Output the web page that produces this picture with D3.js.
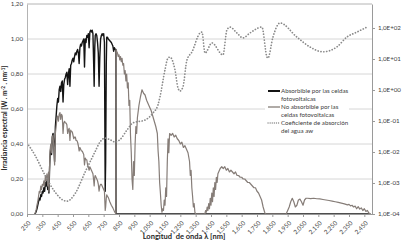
<!DOCTYPE html>
<html>
<head>
<meta charset="utf-8">
<script src="https://cdn.jsdelivr.net/npm/d3@7"></script>
<style>
body { margin: 0; background: #fff; }
text { font-family: Lato, "Open Sans", sans-serif; }
</style>
</head>
<body>
<svg id="chart" width="414" height="241"></svg>
<script>
// wavelengths (nm) below the band gap, shared by both irradiance series
const WL_VIS = [
    300, 305, 310, 315, 320, 325, 330, 335, 340, 345,
    350, 355, 360, 365, 370, 375, 380, 385, 390, 393,
    397, 400, 405, 410, 415, 420, 425, 430, 435, 440,
    445, 450, 455, 460, 465, 470, 475, 480, 485, 490,
    495, 500, 505, 510, 515, 520, 525, 530, 535, 540,
    545, 550, 555, 560, 565, 570, 575, 580, 585, 590,
    595, 600, 605, 610, 615, 620, 625, 630, 635, 640,
    645, 650, 655, 660, 665, 670, 675, 680, 685, 688,
    692, 695, 700, 705, 710, 715, 720, 725, 730, 735,
    740, 745, 750, 755, 760, 763, 767, 770, 775, 780,
    790, 800, 810, 815, 820, 825, 830
];
const ABS_VIS = [
    0, 0.005, 0.015, 0.03, 0.05, 0.07, 0.09, 0.08, 0.11, 0.10,
    0.13, 0.12, 0.15, 0.13, 0.18, 0.16, 0.20, 0.14, 0.22, 0.12,
    0.25, 0.33, 0.38, 0.34, 0.44, 0.46, 0.40, 0.30, 0.50, 0.56,
    0.62, 0.66, 0.64, 0.71, 0.73, 0.70, 0.75, 0.76, 0.64, 0.74,
    0.77, 0.78, 0.80, 0.81, 0.74, 0.80, 0.83, 0.73, 0.85, 0.86,
    0.88, 0.89, 0.87, 0.90, 0.92, 0.91, 0.93, 0.94, 0.92, 0.86,
    0.95, 0.97, 0.96, 0.98, 0.99, 1.00, 0.84, 1.00, 0.98, 1.02,
    1.01, 1.03, 0.95, 1.04, 1.05, 1.04, 1.05, 1.03, 0.85, 0.73,
    0.95, 1.02, 1.03, 1.02, 0.98, 0.92, 0.73, 0.90, 1.00, 1.02,
    1.03, 1.02, 1.03, 0.98, 0.13, 0.30, 0.85, 1.01, 1.01, 1.00,
    0.99, 0.98, 0.96, 0.93, 0.95, 0.94, 0.94
];
const NOABS_VIS = [
    0, 0.01, 0.025, 0.05, 0.07, 0.10, 0.13, 0.12, 0.16, 0.14,
    0.17, 0.16, 0.19, 0.16, 0.22, 0.19, 0.23, 0.16, 0.24, 0.13,
    0.27, 0.36, 0.40, 0.35, 0.44, 0.45, 0.38, 0.28, 0.46, 0.50,
    0.54, 0.56, 0.53, 0.57, 0.58, 0.54, 0.57, 0.56, 0.46, 0.52,
    0.53, 0.52, 0.52, 0.51, 0.46, 0.48, 0.49, 0.42, 0.48, 0.47,
    0.47, 0.45, 0.43, 0.44, 0.44, 0.42, 0.42, 0.41, 0.39, 0.36,
    0.38, 0.37, 0.36, 0.36, 0.35, 0.34, 0.28, 0.32, 0.31, 0.31,
    0.28, 0.27, 0.25, 0.27, 0.26, 0.25, 0.24, 0.23, 0.19, 0.16,
    0.21, 0.22, 0.21, 0.20, 0.19, 0.17, 0.13, 0.16, 0.17, 0.17,
    0.16, 0.15, 0.14, 0.13, 0.02, 0.04, 0.09, 0.11, 0.10, 0.095,
    0.07, 0.05, 0.035, 0.025, 0.015, 0.007, 0
];

// above the band gap the absorbible part is zero
const WL_ABS_IR = [830.5, 2490];
const ABS_IR = [0, 0];

const WL_IR = [
    830.5, 835, 840, 845, 850, 855, 860, 865, 870, 875,
    880, 885, 890, 895, 900, 905, 910, 915, 920, 925,
    930, 935, 940, 945, 950, 955, 960, 965, 970, 980,
    990, 1000, 1010, 1020, 1030, 1040, 1050, 1060, 1070, 1080,
    1090, 1100, 1105, 1110, 1115, 1120, 1125, 1130, 1135, 1140,
    1145, 1150, 1155, 1160, 1165, 1170, 1175, 1180, 1190, 1200,
    1210, 1220, 1230, 1240, 1250, 1260, 1270, 1280, 1290, 1300,
    1310, 1315, 1320, 1325, 1330, 1335, 1340, 1345, 1350, 1410,
    1415, 1420, 1425, 1430, 1435, 1440, 1445, 1450, 1455, 1460,
    1465, 1470, 1475, 1480, 1485, 1490, 1495, 1500, 1510, 1520,
    1530, 1540, 1550, 1560, 1570, 1580, 1590, 1600, 1610, 1620,
    1630, 1640, 1650, 1660, 1670, 1680, 1690, 1700, 1710, 1720,
    1730, 1740, 1750, 1760, 1770, 1780, 1790, 1800, 1805, 1940,
    1950, 1960, 1970, 1980, 1990, 2000, 2010, 2020, 2030, 2040,
    2050, 2060, 2070, 2080, 2100, 2120, 2140, 2160, 2180, 2200,
    2220, 2240, 2260, 2280, 2300, 2320, 2340, 2350, 2360, 2370,
    2380, 2390, 2400, 2410, 2420, 2430, 2440, 2450, 2460, 2470,
    2480, 2490
];
const NOABS_IR = [
    0.94, 0.93, 0.92, 0.90, 0.91, 0.88, 0.90, 0.87, 0.89, 0.85,
    0.86, 0.80, 0.82, 0.76, 0.80, 0.72, 0.75, 0.62, 0.65, 0.45,
    0.35, 0.20, 0.14, 0.30, 0.22, 0.40, 0.50, 0.46, 0.55, 0.62,
    0.67, 0.71, 0.69, 0.68, 0.65, 0.63, 0.61, 0.59, 0.56, 0.53,
    0.50, 0.46, 0.36, 0.30, 0.18, 0.12, 0.05, 0.01, 0.03, 0.02,
    0.08, 0.05, 0.15, 0.10, 0.30, 0.43, 0.35, 0.46, 0.45, 0.46,
    0.44, 0.45, 0.43, 0.42, 0.40, 0.41, 0.38, 0.39, 0.37, 0.35,
    0.30, 0.22, 0.25, 0.15, 0.10, 0.04, 0.06, 0.01, 0, 0,
    0.02, 0.01, 0.04, 0.02, 0.06, 0.03, 0.09, 0.05, 0.12, 0.07,
    0.15, 0.10, 0.18, 0.14, 0.21, 0.18, 0.23, 0.24, 0.26, 0.27,
    0.26, 0.27, 0.25, 0.26, 0.24, 0.25, 0.24, 0.23, 0.24, 0.22,
    0.22, 0.21, 0.21, 0.20, 0.20, 0.19, 0.18, 0.18, 0.17, 0.16,
    0.15, 0.15, 0.13, 0.12, 0.10, 0.08, 0.04, 0.01, 0, 0,
    0.02, 0.04, 0.07, 0.09, 0.07, 0.04, 0.05, 0.08, 0.085, 0.07,
    0.05, 0.08, 0.09, 0.09, 0.088, 0.09, 0.087, 0.086, 0.083, 0.08,
    0.077, 0.074, 0.07, 0.066, 0.062, 0.058, 0.052, 0.055, 0.046, 0.05,
    0.04, 0.045, 0.03, 0.042, 0.028, 0.035, 0.02, 0.03, 0.015, 0.02,
    0.005, 0
];

// water absorption coefficient (right, log axis)
const WL_WATER = [
    250, 302, 367, 433, 485, 511, 563, 628, 693, 726,
    759, 791, 824, 856, 902, 941, 1019, 1071, 1104, 1117,
    1150, 1169, 1182, 1215, 1235, 1248, 1267, 1293, 1326, 1378,
    1391, 1411, 1456, 1528, 1554, 1574, 1619, 1658, 1704, 1782,
    1815, 1821, 1854, 1900, 2010, 2095, 2180, 2271, 2336, 2402,
    2467
];
const WATER_AW = [
    0.0195, 0.0079, 0.0018, 0.00051, 0.00028, 0.00026, 0.00045, 0.0022, 0.010, 0.021,
    0.028, 0.025, 0.021, 0.025, 0.051, 0.087, 0.107, 0.18, 0.33, 0.59,
    4.5, 10.7, 11.5, 4.5, 1.15, 0.93, 1.26, 9.3, 17, 69,
    74, 15.5, 33, 13.5, 87, 107, 69, 48, 69, 107,
    11.5, 10.7, 51, 145, 51, 24.5, 17, 24.5, 51, 74,
    107
];

const X_TICKS = [250, 350, 450, 550, 650, 750, 850, 950, 1050, 1150, 1250, 1350,
    1450, 1550, 1650, 1750, 1850, 1950, 2050, 2150, 2250, 2350, 2450];
const Y_TICKS = [0, 0.2, 0.4, 0.6, 0.8, 1.0, 1.2];
const Y2_TICKS = [1e-4, 1e-3, 1e-2, 1e-1, 1, 10, 100];

const LEGEND = [
    ['Absorbible por las celdas', 'fotovoltaicas'],
    ['No absorbible por las', 'celdas fotovoltaicas'],
    ['Coeficiente de absorción', 'del agua aw']
];

const PLOT = { left: 27, right: 372, top: 4, bottom: 214 };
const BLACK = '#141414';
const GREY = '#867d78';
const DOTS = '#8a8a8a';

const svg = d3.select('#chart');

const xScale = d3.scaleLinear().domain([250, 2500]).range([PLOT.left, PLOT.right]);
const yScale = d3.scaleLinear().domain([0, 1.2]).range([PLOT.bottom, PLOT.top]);
const y2Scale = d3.scaleLog().domain([1e-4, Math.pow(10, 2.774)]).range([PLOT.bottom, PLOT.top]);

// gridlines
svg.append('g')
    .selectAll('line')
    .data(Y_TICKS.slice(1, -1))
    .enter()
    .append('line')
    .attr('x1', PLOT.left).attr('x2', PLOT.right)
    .attr('y1', d => yScale(d)).attr('y2', d => yScale(d))
    .attr('stroke', '#d6d6d6').attr('stroke-width', 1);

svg.append('line')
    .attr('x1', PLOT.left).attr('x2', PLOT.right)
    .attr('y1', yScale(1.2)).attr('y2', yScale(1.2))
    .attr('stroke', '#b4b4b4');

svg.append('clipPath').attr('id', 'clip')
    .append('rect')
    .attr('x', PLOT.left).attr('y', PLOT.top)
    .attr('width', PLOT.right - PLOT.left).attr('height', PLOT.bottom - PLOT.top + 2);

const plot = svg.append('g').attr('clip-path', 'url(#clip)');

const zip = (xs, ys) => xs.map((w, i) => [w, ys[i]]);
const blackData = zip(WL_VIS.concat(WL_ABS_IR), ABS_VIS.concat(ABS_IR));
const greyData = zip(WL_VIS.concat(WL_IR), NOABS_VIS.concat(NOABS_IR));
const waterData = zip(WL_WATER, WATER_AW);

const line = d3.line().x(d => xScale(d[0])).y(d => yScale(d[1]));
const waterLine = d3.line().curve(d3.curveMonotoneX)
    .x(d => xScale(d[0])).y(d => y2Scale(d[1]));

plot.append('path').datum(blackData)
    .attr('d', line).attr('fill', 'none')
    .attr('stroke', BLACK).attr('stroke-width', 1.4).attr('stroke-linejoin', 'round');

plot.append('path').datum(greyData)
    .attr('d', line).attr('fill', 'none')
    .attr('stroke', GREY).attr('stroke-width', 1.2).attr('stroke-linejoin', 'round');

plot.append('path').datum(waterData)
    .attr('d', waterLine).attr('fill', 'none')
    .attr('stroke', DOTS).attr('stroke-width', 1.7)
    .attr('stroke-dasharray', '0.1 2.8').attr('stroke-linecap', 'round');

// axes
const comma = d3.format('.2f');

const yAxis = svg.append('g')
    .attr('transform', `translate(${PLOT.left},0)`)
    .call(d3.axisLeft(yScale).tickValues(Y_TICKS).tickSize(0).tickPadding(4)
        .tickFormat(d => comma(d).replace('.', ',')));
yAxis.select('.domain').attr('stroke', '#b4b4b4');

const xAxis = svg.append('g')
    .attr('transform', `translate(0,${PLOT.bottom})`)
    .call(d3.axisBottom(xScale).tickValues(X_TICKS).tickSize(3).tickSizeOuter(0));
xAxis.select('.domain').attr('stroke', '#9a9a9a');
xAxis.selectAll('.tick line').attr('stroke', '#9a9a9a');
xAxis.selectAll('text')
    .attr('x', 0).attr('y', 0).attr('dy', '0.35em')
    .attr('transform', 'translate(2,8) rotate(-45)')
    .style('text-anchor', 'end');

const expLabel = d => {
    const e = Math.round(Math.log10(d));
    return '1,0E' + (e < 0 ? '-' : '+') + String(Math.abs(e)).padStart(2, '0');
};
const y2Axis = svg.append('g')
    .attr('transform', `translate(${PLOT.right},0)`)
    .call(d3.axisRight(y2Scale).tickValues(Y2_TICKS).tickSize(3).tickPadding(3)
        .tickSizeOuter(0).tickFormat(expLabel));
y2Axis.select('.domain').attr('stroke', '#9a9a9a');
y2Axis.selectAll('.tick line').attr('stroke', '#9a9a9a');

svg.selectAll('.tick text')
    .attr('fill', '#404040')
    .style('font-size', '6.2px');

// axis titles
svg.append('text')
    .attr('x', 184).attr('y', 239)
    .attr('text-anchor', 'middle')
    .style('font-size', '7.5px').style('font-weight', 'bold').attr('fill', '#262626')
    .style('white-space', 'pre')
    .text('Longitud  de onda λ [nm]');

const yTitle = svg.append('text')
    .attr('transform', 'translate(7,118) rotate(-90)')
    .attr('text-anchor', 'middle')
    .style('font-size', '6.6px').style('font-weight', 'bold').attr('fill', '#262626');
yTitle.append('tspan').text('Irradiancia espectral [W . m');
yTitle.append('tspan').attr('dy', -2.5).style('font-size', '4.6px').text('-2');
yTitle.append('tspan').attr('dy', 2.5).text(' . nm');
yTitle.append('tspan').attr('dy', -2.5).style('font-size', '4.6px').text('-1');
yTitle.append('tspan').attr('dy', 2.5).text(']');

// legend
const legend = svg.append('g');
legend.append('rect')
    .attr('x', 265).attr('y', 83).attr('width', 84).attr('height', 55)
    .attr('fill', '#fff');

const legendY = [91, 107, 123];
const legendStyles = [
    { stroke: BLACK, width: 2, dash: null },
    { stroke: GREY, width: 1.3, dash: null },
    { stroke: DOTS, width: 1.3, dash: '0.1 2' }
];

LEGEND.forEach((lines, i) => {
    const s = legendStyles[i];
    legend.append('line')
        .attr('x1', 268).attr('x2', 280)
        .attr('y1', legendY[i]).attr('y2', legendY[i])
        .attr('stroke', s.stroke).attr('stroke-width', s.width)
        .attr('stroke-dasharray', s.dash).attr('stroke-linecap', s.dash ? 'round' : 'butt');
    lines.forEach((t, j) => {
        legend.append('text')
            .attr('x', 281).attr('y', legendY[i] + j * 8)
            .attr('dy', '0.35em')
            .style('font-size', '6.2px').attr('fill', '#404040')
            .text(t);
    });
});
</script>
</body>
</html>
